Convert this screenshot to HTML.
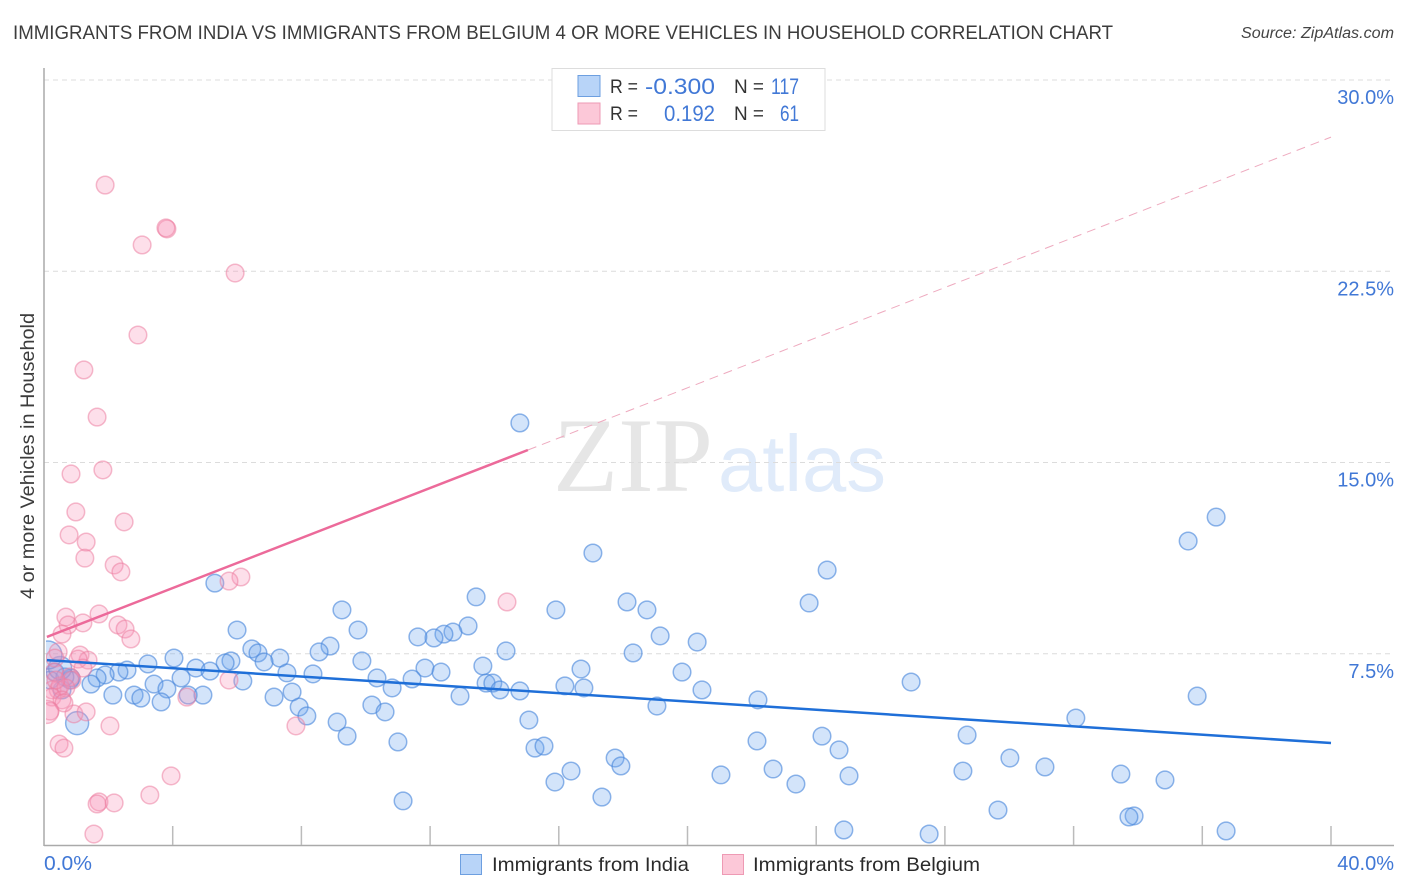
<!DOCTYPE html>
<html lang="en">
<head>
<meta charset="utf-8">
<title>Immigrants from India vs Immigrants from Belgium correlation chart</title>
<style>
  html, body { margin: 0; padding: 0; background: #fff; }
  svg { display: block; font-family: "Liberation Sans", sans-serif; }
</style>
</head>
<body>
<svg id="chart" xmlns="http://www.w3.org/2000/svg" width="1406" height="892" viewBox="0 0 1406 892">
  <defs>
    <clipPath id="plot-clip"><rect x="46" y="60" width="1350" height="785"></rect></clipPath>
  </defs>
  <rect width="1406" height="892" fill="#fff"></rect>
  <text x="13" y="39" font-size="19" fill="#3c3c3c" textLength="1100" lengthAdjust="spacingAndGlyphs">IMMIGRANTS FROM INDIA VS IMMIGRANTS FROM BELGIUM 4 OR MORE VEHICLES IN HOUSEHOLD CORRELATION CHART</text>
  <text x="1394" y="38" font-size="15.5" font-style="italic" fill="#444" text-anchor="end" textLength="153" lengthAdjust="spacingAndGlyphs">Source: ZipAtlas.com</text>

  <text x="553" y="491" font-family="'Liberation Serif', serif" font-size="106" fill="#e6e6e6" textLength="160" lengthAdjust="spacingAndGlyphs">ZIP</text>
  <text x="718" y="491" font-size="80" fill="#e0ebfa" textLength="168" lengthAdjust="spacingAndGlyphs">atlas</text>

  <g id="grid"></g>
  <g id="axes"></g>
  <g id="points" clip-path="url(#plot-clip)"></g>
  <g id="trends"></g>
  <g id="labels"></g>

  <text transform="translate(34 456) rotate(-90)" font-size="19" fill="#3c3c3c" text-anchor="middle" textLength="286" lengthAdjust="spacingAndGlyphs">4 or more Vehicles in Household</text>

  <g>
    <rect x="552" y="68.5" width="273" height="62" fill="#fff" stroke="#ddd" stroke-width="1"></rect>
    <rect x="578" y="75.5" width="22" height="21" fill="#b8d4f8" stroke="#6d9fe0"></rect>
    <rect x="578" y="103" width="22" height="21" fill="#fcc8d8" stroke="#ee9ab4"></rect>
    <text x="610" y="93" font-size="19" fill="#333" textLength="28" lengthAdjust="spacingAndGlyphs">R =</text>
    <text x="645" y="94" font-size="22" fill="#4178d6" textLength="70" lengthAdjust="spacingAndGlyphs">-0.300</text>
    <text x="734" y="93" font-size="19" fill="#333" textLength="30" lengthAdjust="spacingAndGlyphs">N =</text>
    <text x="771" y="94" font-size="22" fill="#4178d6" textLength="28" lengthAdjust="spacingAndGlyphs">117</text>
    <text x="610" y="120" font-size="19" fill="#333" textLength="28" lengthAdjust="spacingAndGlyphs">R =</text>
    <text x="664" y="121" font-size="22" fill="#4178d6" textLength="51" lengthAdjust="spacingAndGlyphs">0.192</text>
    <text x="734" y="120" font-size="19" fill="#333" textLength="30" lengthAdjust="spacingAndGlyphs">N =</text>
    <text x="780" y="121" font-size="22" fill="#4178d6" textLength="19" lengthAdjust="spacingAndGlyphs">61</text>
  </g>

  <g>
    <rect x="460.5" y="854.5" width="21" height="20" fill="#b8d4f8" stroke="#6d9fe0"></rect>
    <text x="492" y="871" font-size="19.5" fill="#2a2a2a" textLength="197" lengthAdjust="spacingAndGlyphs">Immigrants from India</text>
    <rect x="722.5" y="854.5" width="21" height="20" fill="#fcc8d8" stroke="#ee9ab4"></rect>
    <text x="753" y="871" font-size="19.5" fill="#2a2a2a" textLength="227" lengthAdjust="spacingAndGlyphs">Immigrants from Belgium</text>
  </g>
</svg>
<script>
const xTickValues = [0, 4, 8, 12, 16, 20, 24, 28, 32, 36, 40];
const yTickValues = [7.5, 15, 22.5, 30];
const yTickLabels = ["7.5%", "15.0%", "22.5%", "30.0%"];
const xEndLabels = ["0.0%", "40.0%"];

const indiaX = [14.79,36.43,35.56,17.06,24.34,5.31,13.43,18.12,23.78,9.26,15.91,18.74,6.00,9.76,13.18,12.71,12.43,12.12,11.62,19.15,20.30,6.46,6.65,8.89,8.55,14.36,18.31,7.33,4.04,3.23,5.81,5.63,6.84,9.88,4.72,5.16,13.64,11.84,12.34,16.69,19.83,7.55,8.36,2.58,2.33,1.90,1.65,1.46,0.84,4.26,3.42,3.82,10.35,11.44,13.74,13.95,10.82,14.17,14.79,16.19,16.78,20.45,26.95,6.18,7.71,2.14,2.80,3.01,4.94,4.48,3.64,7.15,10.19,12.93,22.19,35.84,19.05,7.93,10.60,8.17,15.07,9.11,32.07,9.42,11.00,28.69,24.18,22.16,24.71,15.26,15.54,30.02,17.75,17.93,16.38,31.11,22.66,28.56,21.04,33.47,25.02,34.84,15.88,23.37,11.16,17.34,29.65,33.88,33.72,24.86,27.51,36.74,0.56,0.81,0.34,0.19,0.65];
const indiaY = [16.55,12.86,11.92,11.45,10.78,10.27,9.73,9.53,9.49,9.22,9.22,9.22,8.43,8.43,8.59,8.35,8.27,8.12,8.16,8.20,7.96,7.69,7.53,7.80,7.57,7.61,7.53,7.33,7.33,7.10,7.22,7.14,7.18,7.22,6.94,6.82,7.02,6.94,6.78,6.90,6.78,6.75,6.71,6.86,6.78,6.67,6.55,6.31,6.55,6.55,6.31,6.12,6.55,6.51,6.35,6.35,6.16,6.08,6.04,6.24,6.16,6.08,6.39,6.43,6.00,5.88,5.88,5.76,5.88,5.88,5.61,5.80,5.49,5.84,5.69,5.84,5.45,5.41,5.22,5.06,4.90,4.82,4.98,4.27,4.04,4.31,4.27,4.08,3.73,3.80,3.88,3.41,3.41,3.10,2.90,3.06,2.98,2.90,2.75,2.78,2.71,2.55,2.47,2.39,1.73,1.88,1.37,1.14,1.10,0.59,0.43,0.55,6.08,6.47,6.78,6.47,6.59];
const indiaLargeX = [1.03, 0.50];
const indiaLargeY = [4.78, 6.94];
const indiaHugeX = [0.12];
const indiaHugeY = [7.45];

const belgiumX = [1.90,3.82,3.79,3.05,5.94,2.92,1.24,1.65,0.84,1.83,0.99,2.49,0.78,1.31,1.27,2.18,2.39,6.12,5.75,14.39,0.68,1.71,0.75,1.21,2.30,2.52,0.56,2.70,1.12,0.44,1.37,1.06,1.21,0.34,5.75,4.44,0.31,0.81,0.44,0.25,0.50,0.87,0.68,0.25,0.56,0.19,0.93,1.31,0.62,2.05,7.83,0.47,0.62,3.95,3.29,1.71,1.65,2.18,1.55,0.37];
const belgiumY = [25.88,24.16,24.20,23.53,22.43,20.00,18.63,16.78,14.55,14.71,13.06,12.67,12.16,11.88,11.25,10.98,10.71,10.51,10.35,9.53,8.94,9.06,8.63,8.71,8.63,8.47,8.27,8.08,7.45,7.57,7.25,7.29,6.94,7.33,6.47,5.80,6.78,6.59,6.08,6.08,6.24,6.47,6.16,5.80,5.69,5.25,5.14,5.22,5.57,4.67,4.67,3.96,3.80,2.71,1.96,1.69,1.61,1.65,0.43,6.47];
const belgiumLargeX = [0.09];
const belgiumLargeY = [5.22];

const indiaTrendX = [0.09, 40];
const indiaTrendY = [7.25, 4.0];
const belgiumTrendX = [0.09, 15.04, 40];
const belgiumTrendY = [8.16, 15.49, 27.76];

const NS = "http://www.w3.org/2000/svg";
const scaleX = v => 44 + v * 32.175;
const scaleY = v => 845 - v * 25.5;

function mk(parent, tag, attrs) {
  const el = document.createElementNS(NS, tag);
  for (const k in attrs) el.setAttribute(k, attrs[k]);
  parent.appendChild(el);
  return el;
}

const gridG = document.getElementById("grid");
const axesG = document.getElementById("axes");
const pointsG = document.getElementById("points");
const trendsG = document.getElementById("trends");
const labelsG = document.getElementById("labels");

yTickValues.forEach(function (v) {
  const el = mk(gridG, "line", { x1: 44, x2: 1394, y1: scaleY(v), y2: scaleY(v), stroke: "#dcdcdc", "stroke-width": 1, "stroke-dasharray": "5 4" });
  
  
});

const yAxisLine = mk(axesG, "line", { x1: 44, x2: 44, y1: 68, y2: 846, stroke: "#aaa", "stroke-width": 1.5 });


const xAxisLine = mk(axesG, "line", { x1: 44, x2: 1394, y1: 845.5, y2: 845.5, stroke: "#aaa", "stroke-width": 1.5 });


xTickValues.slice(1).forEach(function (v) {
  const el = mk(axesG, "line", { x1: scaleX(v), x2: scaleX(v), y1: 826, y2: 845, stroke: "#bbb", "stroke-width": 1.5 });
  
  
});

const indiaStyle = { fill: "rgba(110,165,240,0.30)", stroke: "rgba(75,135,220,0.62)", "stroke-width": 1.5 };
const belgiumStyle = { fill: "rgba(248,150,185,0.30)", stroke: "rgba(236,125,160,0.52)", "stroke-width": 1.5 };

function drawDot(xv, yv, r, style) {
  const attrs = { cx: scaleX(xv), cy: scaleY(yv), r: r };
  for (const k in style) attrs[k] = style[k];
  return mk(pointsG, "circle", attrs);
}

indiaX.forEach(function (v, i) {
  const el = drawDot(v, indiaY[i], 8.8, indiaStyle);
  
  
});
indiaLargeX.forEach(function (v, i) {
  const el = drawDot(v, indiaLargeY[i], 11.5, indiaStyle);
  
  
});
indiaHugeX.forEach(function (v, i) {
  const el = drawDot(v, indiaHugeY[i], 14, indiaStyle);
  
  
});
belgiumX.forEach(function (v, i) {
  const el = drawDot(v, belgiumY[i], 8.8, belgiumStyle);
  
  
});
belgiumLargeX.forEach(function (v, i) {
  const el = drawDot(v, belgiumLargeY[i], 11.5, belgiumStyle);
  
  
});

const indiaLine = mk(trendsG, "line", { x1: scaleX(indiaTrendX[0]), y1: scaleY(indiaTrendY[0]), x2: scaleX(indiaTrendX[1]), y2: scaleY(indiaTrendY[1]), stroke: "#1f6fd8", "stroke-width": 2.5 });


const belgiumSolid = mk(trendsG, "line", { x1: scaleX(belgiumTrendX[0]), y1: scaleY(belgiumTrendY[0]), x2: scaleX(belgiumTrendX[1]), y2: scaleY(belgiumTrendY[1]), stroke: "#ec6a9a", "stroke-width": 2.5 });


const belgiumDash = mk(trendsG, "line", { x1: scaleX(belgiumTrendX[1]), y1: scaleY(belgiumTrendY[1]), x2: scaleX(belgiumTrendX[2]), y2: scaleY(belgiumTrendY[2]), stroke: "#eeaabf", "stroke-width": 1, "stroke-dasharray": "9 6" });



yTickLabels.forEach(function (t, i) {
  const el = mk(labelsG, "text", { x: 1394, y: scaleY(yTickValues[i]) + 24, "font-size": 20, fill: "#4178d6", "text-anchor": "end" });
  el.textContent = t;
  
  
});
const xStartLabel = mk(labelsG, "text", { x: 44, y: 870, "font-size": 20, fill: "#4178d6", textLength: 48, lengthAdjust: "spacingAndGlyphs" });
xStartLabel.textContent = xEndLabels[0];


const xEndLabel = mk(labelsG, "text", { x: 1394, y: 870, "font-size": 20, fill: "#4178d6", "text-anchor": "end" });
xEndLabel.textContent = xEndLabels[1];


</script>
</body>
</html>
